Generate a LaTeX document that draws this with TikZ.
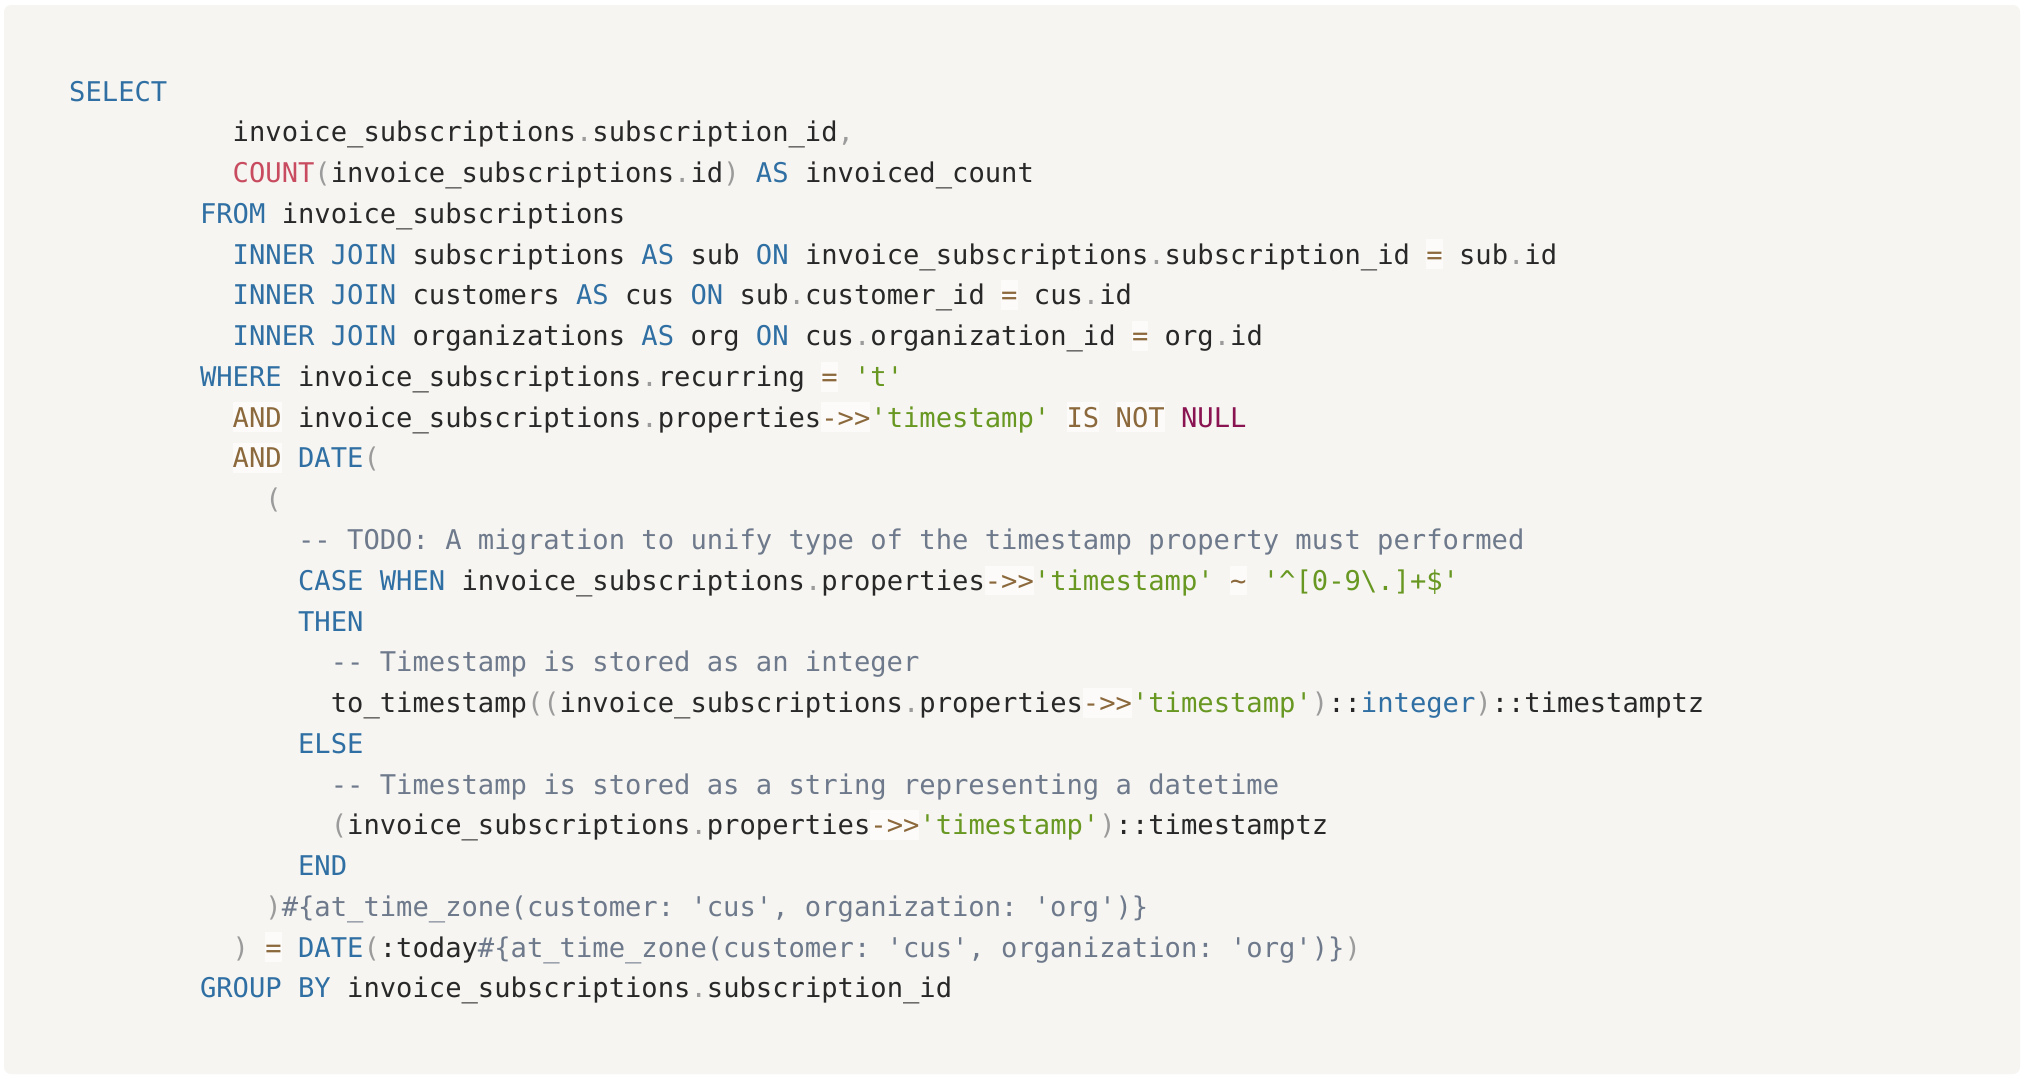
\documentclass[tikz,border=0pt]{standalone}
\usepackage{fontspec}
\setmonofont{DejaVu Sans Mono}
\usepackage{tikz}
\definecolor{cardbg}{HTML}{F6F5F1}
\definecolor{sqlopbg}{HTML}{FCFBF9}
\definecolor{sqlkw}{HTML}{2F6FA3}
\definecolor{sqlfn}{HTML}{C84B5F}
\definecolor{sqlop}{HTML}{8C693C}
\definecolor{sqlstr}{HTML}{689822}
\definecolor{sqlnull}{HTML}{8A1452}
\definecolor{sqlcm}{HTML}{6E7A8C}
\definecolor{sqlpu}{HTML}{9B9B9B}
\definecolor{sqltext}{HTML}{282828}
\def\kw#1{\textcolor{sqlkw}{#1}}
\def\fnc#1{\textcolor{sqlfn}{#1}}
\def\op#1{{\fboxsep=0pt\colorbox{sqlopbg}{\rule[-0.19em]{0pt}{1.1em}\textcolor{sqlop}{#1}}}}
\def\strg#1{\textcolor{sqlstr}{#1}}
\def\sqlnull#1{\textcolor{sqlnull}{#1}}
\def\cmt#1{\textcolor{sqlcm}{#1}}
\def\pu#1{\textcolor{sqlpu}{#1}}
\def\dt{\pu{.}}
\def\tz{\cmt{\#\{at\_time\_zone(customer: 'cus', organization: 'org')\}}}
\frenchspacing

\begin{document}
\begin{tikzpicture}[x=1pt, y=-1pt,
	code/.style={anchor=base west, inner sep=0pt, text=sqltext, font=\ttfamily\fontsize{27.16}{40.77}\selectfont}]
		%%%%% START %%%%%
		
		\useasboundingbox[fill=white] (0, 0) rectangle (2024, 1079);
		\fill[cardbg, rounded corners=7] (4, 5) rectangle (2020, 1074);
		
		\node[code] (l1) at (69, 101) {\kw{SELECT}};
		\node[code] (l2) at (232.5, 141.77) {invoice\_subscriptions\dt subscription\_id\pu{,}};
		\node[code] (l3) at (232.5, 182.54) {\fnc{COUNT}\pu{(}invoice\_subscriptions\dt id\pu{)} \kw{AS} invoiced\_count};
		\node[code] (l4) at (199.8, 223.31) {\kw{FROM} invoice\_subscriptions};
		\node[code] (l5) at (232.5, 264.08) {\kw{INNER JOIN} subscriptions \kw{AS} sub \kw{ON} invoice\_subscriptions\dt subscription\_id \op{=} sub\dt id};
		\node[code] (l6) at (232.5, 304.85) {\kw{INNER JOIN} customers \kw{AS} cus \kw{ON} sub\dt customer\_id \op{=} cus\dt id};
		\node[code] (l7) at (232.5, 345.62) {\kw{INNER JOIN} organizations \kw{AS} org \kw{ON} cus\dt organization\_id \op{=} org\dt id};
		\node[code] (l8) at (199.8, 386.39) {\kw{WHERE} invoice\_subscriptions\dt recurring \op{=} \strg{'t'}};
		\node[code] (l9) at (232.5, 427.16) {\op{AND} invoice\_subscriptions\dt properties\op{->>}\strg{'timestamp'} \op{IS} \op{NOT} \sqlnull{NULL}};
		\node[code] (l10) at (232.5, 467.93) {\op{AND} \kw{DATE}\pu{(}};
		\node[code] (l11) at (265.2, 508.70) {\pu{(}};
		\node[code] (l12) at (297.9, 549.47) {\cmt{-- TODO: A migration to unify type of the timestamp property must performed}};
		\node[code] (l13) at (297.9, 590.24) {\kw{CASE WHEN} invoice\_subscriptions\dt properties\op{->>}\strg{'timestamp'} \op{\textasciitilde} \strg{'\textasciicircum[0-9\textbackslash.]+\$'}};
		\node[code] (l14) at (297.9, 631.01) {\kw{THEN}};
		\node[code] (l15) at (330.6, 671.78) {\cmt{-- Timestamp is stored as an integer}};
		\node[code] (l16) at (330.6, 712.55) {to\_timestamp\pu{((}invoice\_subscriptions\dt properties\op{->>}\strg{'timestamp'}\pu{)}::\kw{integer}\pu{)}::timestamptz};
		\node[code] (l17) at (297.9, 753.32) {\kw{ELSE}};
		\node[code] (l18) at (330.6, 794.09) {\cmt{-- Timestamp is stored as a string representing a datetime}};
		\node[code] (l19) at (330.6, 834.86) {\pu{(}invoice\_subscriptions\dt properties\op{->>}\strg{'timestamp'}\pu{)}::timestamptz};
		\node[code] (l20) at (297.9, 875.63) {\kw{END}};
		\node[code] (l21) at (265.2, 916.40) {\pu{)}\tz};
		\node[code] (l22) at (232.5, 957.17) {\pu{)} \op{=} \kw{DATE}\pu{(}:today\tz\pu{)}};
		\node[code] (l23) at (199.8, 997.94) {\kw{GROUP BY} invoice\_subscriptions\dt subscription\_id};
		
		%%%%% END %%%%%
	\end{tikzpicture}
\end{document}
